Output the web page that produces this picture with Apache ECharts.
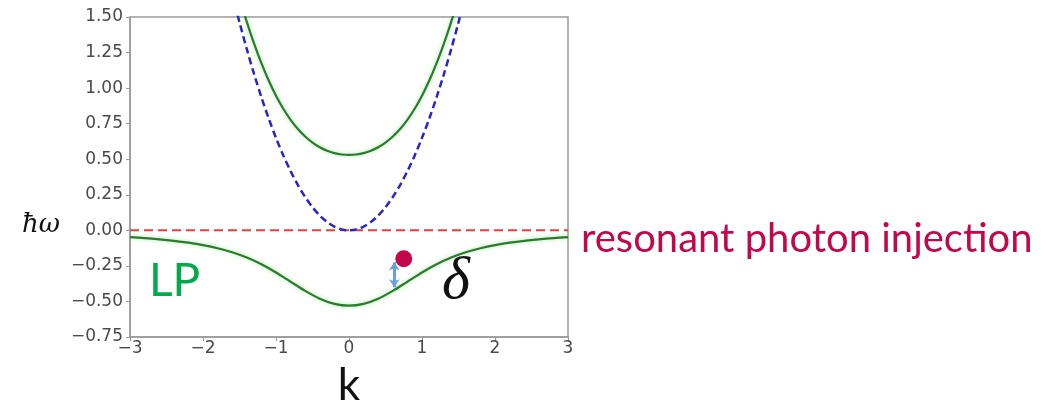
<!DOCTYPE html>
<html><head><meta charset="utf-8">
<script src="https://cdn.jsdelivr.net/npm/echarts@6/dist/echarts.min.js"></script>
<style>html,body{margin:0;padding:0;background:#fff}#c{width:1063px;height:402px}</style>
</head><body><div id="c"></div>
<script>
// k samples for the upper branch and the bare photon
const kFine = [-1.6,-1.5,-1.4,-1.3,-1.2,-1.1,-1.0,-0.9,-0.8,-0.7,-0.6,-0.5,-0.4,-0.3,-0.2,-0.1,0,0.1,0.2,0.3,0.4,0.5,0.6,0.7,0.8,0.9,1.0,1.1,1.2,1.3,1.4,1.5,1.6];
const photon = [1.664,1.4625,1.274,1.0985,0.936,0.7865,0.65,0.5265,0.416,0.3185,0.234,0.1625,0.104,0.0585,0.026,0.0065,0,0.0065,0.026,0.0585,0.104,0.1625,0.234,0.3185,0.416,0.5265,0.65,0.7865,0.936,1.0985,1.274,1.4625,1.664];
const upper = [1.8185,1.6344,1.4657,1.3125,1.1751,1.0532,0.9467,0.8550,0.7774,0.7127,0.6598,0.6174,0.5846,0.5601,0.5432,0.5333,0.53,0.5333,0.5432,0.5601,0.5846,0.6174,0.6598,0.7127,0.7774,0.8550,0.9467,1.0532,1.1751,1.3125,1.4657,1.6344,1.8185];
// k samples for the lower polariton (LP)
const kLP = [-3,-2.8,-2.6,-2.4,-2.2,-2.0,-1.8,-1.6,-1.4,-1.2,-1.0,-0.8,-0.6,-0.4,-0.2,0,0.2,0.4,0.6,0.8,1.0,1.2,1.4,1.6,1.8,2.0,2.2,2.4,2.6,2.8,3];
const lower = [-0.0476,-0.0545,-0.0630,-0.0736,-0.0869,-0.1039,-0.1259,-0.1545,-0.1917,-0.2391,-0.2967,-0.3614,-0.4258,-0.4806,-0.5172,-0.53,-0.5172,-0.4806,-0.4258,-0.3614,-0.2967,-0.2391,-0.1917,-0.1545,-0.1259,-0.1039,-0.0869,-0.0736,-0.0630,-0.0545,-0.0476];
// exciton level
const excitonK = [-3, 3];
const excitonE = [0, 0];
// injected photon and detuning arrow
const injection = [0.75, -0.2];
const arrowK = 0.62;
const arrowE = [-0.225, -0.40];

const zip = (a, b) => a.map((v, i) => [v, b[i]]);
const minus = v => (v < 0 ? '\u2212' : '');

const chart = echarts.init(document.getElementById('c'), null, {renderer: 'canvas'});
chart.setOption({
  animation: false,
  backgroundColor: '#fff',
  grid: {left: 130, right: 495, top: 17, bottom: 65, outerBoundsMode: 'none', containLabel: false,
    show: true, borderColor: '#9a9a9a', borderWidth: 1.5},
  xAxis: {
    type: 'value', min: -3, max: 3, interval: 1,
    name: 'k', nameLocation: 'middle', nameGap: 27,
    nameTextStyle: {fontFamily: 'Lato', fontSize: 44, color: '#111'},
    axisLine: {show: true, onZero: false, lineStyle: {color: '#9a9a9a', width: 1.5}},
    axisTick: {show: true, length: 4, lineStyle: {color: '#9a9a9a'}},
    splitLine: {show: false},
    axisLabel: {margin: 3, fontFamily: 'DejaVu Sans', fontSize: 17, color: '#4a4a4a',
      formatter: v => minus(v) + Math.abs(v).toFixed(0)}
  },
  yAxis: {
    type: 'value', min: -0.75, max: 1.5, interval: 0.25,
    axisLine: {show: true, onZero: false, lineStyle: {color: '#9a9a9a', width: 1.5}},
    axisTick: {show: true, length: 4, lineStyle: {color: '#9a9a9a'}},
    splitLine: {show: false},
    axisLabel: {margin: 7, fontFamily: 'DejaVu Sans', fontSize: 17, color: '#4a4a4a',
      formatter: v => minus(v) + Math.abs(v).toFixed(2)}
  },
  series: [
    {type: 'line', data: zip(excitonK, excitonE), showSymbol: false, symbol: 'none',
      lineStyle: {color: '#e8403a', width: 2, type: [9, 5]}, z: 2},
    {type: 'line', data: zip(kFine, photon), smooth: 0.3, symbol: 'none', clip: true,
      lineStyle: {color: '#2626c8', width: 2.5, type: [7, 4]}, z: 3},
    {type: 'line', data: zip(kFine, upper), smooth: 0.3, symbol: 'none', clip: true,
      lineStyle: {color: '#2c7a2c', width: 2.2, shadowColor: 'rgba(110,220,110,0.6)', shadowBlur: 4}, z: 4},
    {type: 'line', data: zip(kLP, lower), smooth: 0.3, symbol: 'none', clip: true,
      lineStyle: {color: '#2c7a2c', width: 2.2, shadowColor: 'rgba(110,220,110,0.6)', shadowBlur: 4}, z: 4},
    {type: 'scatter', data: [injection], symbolSize: 17, itemStyle: {color: '#c0084a', opacity: 1}, z: 6,
      markLine: {
        silent: true, symbol: ['arrow', 'arrow'], symbolSize: [8, 8],
        label: {show: false},
        lineStyle: {color: '#6a9fd8', width: 3, type: 'solid'},
        data: [[{coord: [arrowK, arrowE[0]]}, {coord: [arrowK, arrowE[1]]}]]
      }}
  ],
  graphic: [
    {type: 'text', left: 22, top: 212, style: {text: '\u0127\u03c9', fontFamily: 'DejaVu Serif', fontStyle: 'italic', fontSize: 26, fill: '#111'}},
    {type: 'text', left: 149, top: 258, style: {text: 'LP', fontFamily: 'Lato', fontSize: 46, fill: '#06a84c'}},
    {type: 'text', left: 442, top: 252, style: {text: '\u03b4', fontFamily: 'Liberation Serif', fontStyle: 'italic', fontSize: 60, fill: '#111'}},
    {type: 'text', left: 581, top: 219, style: {text: 'resonant photon injection', fontFamily: 'Lato', fontSize: 40, fill: '#c0084a'}}
  ]
});
</script>
</body></html>
